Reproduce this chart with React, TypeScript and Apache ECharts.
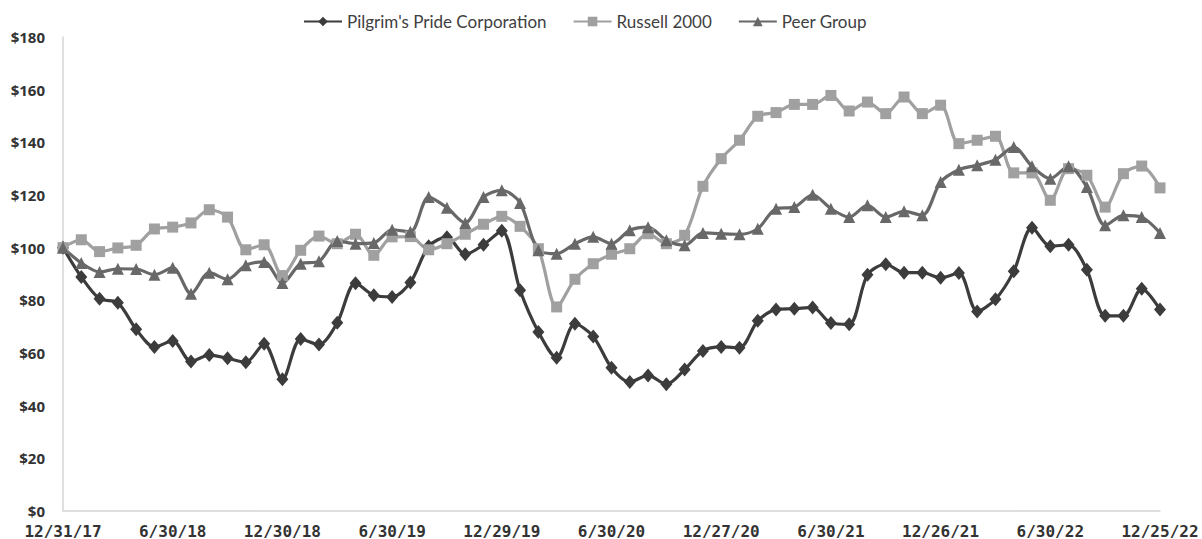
import React, { useEffect, useRef } from "react";
import * as echarts from "echarts";

const tickLabels = ["12/31/17", "6/30/18", "12/30/18", "6/30/19", "12/29/19", "6/30/20", "12/27/20", "6/30/21", "12/26/21", "6/30/22", "12/25/22"];

const pilgrims = [
  100, 88.9, 80.6, 79.1, 69.0, 62.3, 64.6, 56.8, 59.2, 58.0,
  56.5, 63.5, 50.0, 65.3, 63.2, 71.5, 86.5, 81.9, 81.3, 86.8,
  100.5, 104.0, 97.5, 101.1, 106.4, 83.8, 68.0, 58.2, 71.1, 66.3,
  54.4, 49.0, 51.5, 48.1, 53.7, 60.8, 62.3, 62.0, 72.2, 76.5,
  76.8, 77.3, 71.4, 70.9, 89.7, 93.7, 90.5, 90.5, 88.6, 90.4,
  75.8, 80.4, 91.0, 107.6, 100.5, 101.1, 91.6, 74.1, 74.1, 84.4,
  76.5,
];

const russell = [
  100, 103.0, 98.5, 99.9, 100.9, 107.1, 107.8, 109.4, 114.4, 111.6,
  99.2, 101.1, 89.4, 99.0, 104.4, 101.5, 105.1, 97.1, 104.1, 104.2,
  99.2, 101.5, 105.1, 108.9, 111.9, 108.1, 99.6, 77.5, 88.0, 93.9,
  97.5, 99.6, 105.3, 101.5, 104.7, 123.3, 133.8, 140.8, 149.9, 151.3,
  154.4, 154.4, 157.8, 151.9, 155.3, 150.9, 157.2, 150.9, 154.1, 139.5,
  140.8, 142.3, 128.4, 128.4, 118.0, 130.0, 127.5, 115.4, 128.1, 131.0,
  122.7,
];

const peer = [
  100, 94.2, 90.8, 92.0, 91.9, 89.7, 92.4, 82.5, 90.5, 88.0,
  93.3, 94.6, 86.6, 93.9, 94.8, 102.5, 101.5, 101.8, 106.8, 106.0,
  119.2, 115.2, 109.4, 119.2, 121.8, 117.0, 99.0, 97.7, 101.5, 104.1,
  101.5, 106.6, 107.8, 102.8, 100.9, 105.6, 105.3, 105.1, 107.2, 114.8,
  115.4, 120.1, 114.8, 111.6, 116.1, 111.6, 113.8, 112.3, 124.9, 129.6,
  131.3, 133.4, 138.2, 130.9, 126.2, 130.9, 123.0, 108.5, 112.3, 111.6,
  105.6,
];

const months = pilgrims.map((_, i) => String(i));

export default function App() {
  const ref = useRef<HTMLDivElement>(null);
  useEffect(() => {
    if (!ref.current) return;
    const chart = echarts.init(ref.current, undefined, { renderer: "svg" });
    const lineSeries = (name: string, data: number[], color: string, symbol: string, size: any) => ({
      name,
      type: "line",
      data,
      smooth: 0.3,
      symbol,
      symbolSize: size,
      lineStyle: { color, width: 3.2 },
      itemStyle: { color },
      emphasis: { disabled: true },
    });
    chart.setOption({
      animation: false,
      backgroundColor: "#ffffff",
      legend: {
        top: 8,
        left: 298,
        itemWidth: 38,
        itemHeight: 12,
        itemGap: 26,
        textStyle: { fontFamily: "Lato", fontSize: 17, color: "#404040" },
        data: ["Pilgrim's Pride Corporation", "Russell 2000", "Peer Group"],
      },
      grid: { left: 63, right: 42, top: 37, bottom: 28, containLabel: false },
      xAxis: {
        type: "category",
        data: months,
        boundaryGap: false,
        axisLine: { lineStyle: { color: "#d4d4d4", width: 1.5 } },
        axisTick: { show: false },
        axisLabel: {
          interval: 0,
          margin: 12,
          fontFamily: "DejaVu Sans Mono",
          fontWeight: "bold",
          fontSize: 16,
          color: "#333333",
          formatter: (v: string) => {
            const i = Number(v);
            return i % 6 === 0 ? tickLabels[i / 6] : "";
          },
        },
        splitLine: { show: false },
      },
      yAxis: {
        type: "value",
        min: 0,
        max: 180,
        interval: 20,
        axisLine: { show: true, lineStyle: { color: "#d4d4d4", width: 1.5 } },
        axisTick: { show: false },
        splitLine: { show: false },
        axisLabel: {
          margin: 18,
          fontFamily: "Open Sans",
          fontWeight: "bold",
          fontSize: 15,
          color: "#333333",
          formatter: (v: number) => "$" + v,
        },
      },
      series: [
        lineSeries("Pilgrim's Pride Corporation", pilgrims, "#3c3c3c", "diamond", [12, 14]),
        lineSeries("Russell 2000", russell, "#a0a0a0", "rect", 11),
        lineSeries("Peer Group", peer, "#686868", "triangle", 12),
      ],
    });
    return () => chart.dispose();
  }, []);
  return <div ref={ref} style={{ position: "fixed", left: 0, top: 0, width: 1202, height: 539 }} />;
}
